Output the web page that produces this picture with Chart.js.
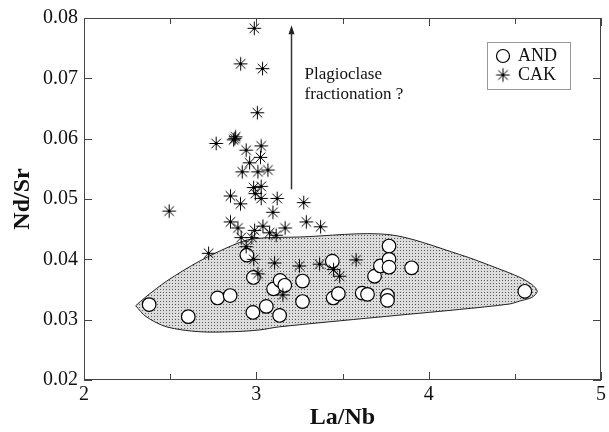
<!DOCTYPE html>
<html>
<head>
<meta charset="utf-8">
<script src="https://cdn.jsdelivr.net/npm/chart.js@4"></script>
<style>
  body { margin: 0; background: #fff; }
  #wrap { width: 609px; height: 432px; }
</style>
</head>
<body>
<div id="wrap"><canvas id="chart" width="609" height="432"></canvas></div>
<script>
// AND samples (circles)
const andX = [2.378, 2.605, 2.775, 2.848, 2.945, 2.983, 2.980, 3.058, 3.100, 3.138,
  3.165, 3.135, 3.268, 3.268, 3.441, 3.446, 3.476, 3.614, 3.645, 3.686,
  3.720, 3.770, 3.770, 3.770, 3.761, 3.761, 3.901, 4.558];
const andY = [0.0325, 0.0305, 0.0336, 0.0340, 0.0407, 0.0370, 0.0312, 0.0322, 0.0351, 0.0365,
  0.0357, 0.0307, 0.0364, 0.0330, 0.0397, 0.0336, 0.0343, 0.0344, 0.0342, 0.0372,
  0.0389, 0.0422, 0.0400, 0.0387, 0.0340, 0.0332, 0.0386, 0.0347];

// CAK samples (stars)
const cakX = [2.988, 2.909, 3.036, 3.006, 2.767, 2.868, 2.880, 2.875, 2.941, 3.028,
  3.024, 2.961, 2.918, 3.009, 3.067, 2.984, 3.028, 2.994, 3.028, 2.850,
  2.908, 3.121, 3.096, 3.275, 2.494, 2.850, 2.893, 2.990, 3.038, 3.077,
  3.115, 3.167, 3.290, 3.373, 2.912, 2.974, 2.941, 2.723, 2.985, 3.106,
  3.250, 3.367, 3.009, 3.579, 3.448, 3.483, 3.154];
const cakY = [0.0783, 0.0724, 0.0716, 0.0643, 0.0592, 0.0598, 0.0603, 0.0600, 0.0581, 0.0588,
  0.0569, 0.0560, 0.0545, 0.0545, 0.0548, 0.0519, 0.0521, 0.0509, 0.0501, 0.0505,
  0.0492, 0.0501, 0.0478, 0.0494, 0.0480, 0.0462, 0.0452, 0.0448, 0.0455, 0.0444,
  0.0440, 0.0452, 0.0462, 0.0454, 0.0436, 0.0436, 0.0421, 0.0410, 0.0400, 0.0394,
  0.0389, 0.0392, 0.0376, 0.0399, 0.0383, 0.0372, 0.0341];

// outline of the AND field
const fieldX = [2.30, 2.36, 2.48, 2.67, 2.86, 2.98, 3.25, 3.77, 4.18, 4.40, 4.53, 4.60, 4.63,
  4.60, 4.53, 4.47, 4.18, 3.70, 3.13, 3.02, 2.86, 2.67, 2.48, 2.36, 2.30];
const fieldY = [0.0323, 0.0338, 0.0364, 0.0397, 0.0423, 0.0434, 0.0437, 0.0441, 0.0408, 0.0385, 0.0370, 0.0358, 0.0347,
  0.0337, 0.0331, 0.0326, 0.0317, 0.0304, 0.0288, 0.0283, 0.0280, 0.0280, 0.0288, 0.0305, 0.0323];

const xTicks = [2, 3, 4, 5];
const xMinor = [2.5, 3.5, 4.5];
const yTicks = [0.02, 0.03, 0.04, 0.05, 0.06, 0.07, 0.08];

const arrowX = 3.2, arrowFrom = 0.0516, arrowTo = 0.0788;
const noteX = 3.28, noteY = 0.0690;
const noteLines = ['Plagioclase', 'fractionation ?'];

const serif = '"Liberation Serif", "DejaVu Serif", serif';

function pts(xs, ys) {
  return xs.map((x, i) => ({ x: x, y: ys[i] }));
}

// stippled fill
const pat = document.createElement('canvas');
pat.width = 3; pat.height = 3;
const pctx = pat.getContext('2d');
pctx.fillStyle = '#dcdcdc';
pctx.fillRect(0, 0, 3, 3);
pctx.fillStyle = '#5a5a5a';
pctx.fillRect(1, 1, 1, 1);
const stipple = pctx.createPattern(pat, 'repeat');

// asterisk marker with a dot in the middle
function makeStar(r) {
  const c = document.createElement('canvas');
  const s = Math.ceil(r * 2 + 3);
  c.width = s; c.height = s;
  const g = c.getContext('2d');
  const m = s / 2;
  g.strokeStyle = '#000';
  g.lineWidth = 1;
  for (let k = 0; k < 4; k++) {
    const a = k * Math.PI / 4;
    g.beginPath();
    g.moveTo(m - r * Math.cos(a), m - r * Math.sin(a));
    g.lineTo(m + r * Math.cos(a), m + r * Math.sin(a));
    g.stroke();
  }
  g.fillStyle = '#000';
  g.beginPath();
  g.arc(m, m, 1.8, 0, Math.PI * 2);
  g.fill();
  return c;
}
const star = makeStar(6.8);

const frame = {
  id: 'frame',
  afterDraw(chart) {
    const { ctx, chartArea: a, scales: { x, y } } = chart;
    ctx.save();
    ctx.strokeStyle = '#444';
    ctx.lineWidth = 1;
    ctx.strokeRect(a.left + 0.5, a.top + 0.5, a.right - a.left - 1, a.bottom - a.top - 1);
    ctx.beginPath();
    xTicks.forEach(v => {
      const px = Math.round(x.getPixelForValue(v)) + 0.5;
      ctx.moveTo(px, a.bottom); ctx.lineTo(px, a.bottom - 8);
      ctx.moveTo(px, a.top); ctx.lineTo(px, a.top + 8);
    });
    xMinor.forEach(v => {
      const px = Math.round(x.getPixelForValue(v)) + 0.5;
      ctx.moveTo(px, a.bottom); ctx.lineTo(px, a.bottom - 6);
      ctx.moveTo(px, a.top); ctx.lineTo(px, a.top + 6);
    });
    yTicks.forEach(v => {
      const py = Math.round(y.getPixelForValue(v)) + 0.5;
      ctx.moveTo(a.left, py); ctx.lineTo(a.left + 8, py);
      ctx.moveTo(a.right, py); ctx.lineTo(a.right - 8, py);
    });
    ctx.stroke();

    // arrow
    const ax = Math.round(x.getPixelForValue(arrowX)) + 0.5;
    const y0 = y.getPixelForValue(arrowFrom), y1 = y.getPixelForValue(arrowTo);
    ctx.strokeStyle = '#333';
    ctx.lineWidth = 1.5;
    ctx.beginPath();
    ctx.moveTo(ax, y0); ctx.lineTo(ax, y1 + 6);
    ctx.stroke();
    ctx.fillStyle = '#222';
    ctx.beginPath();
    ctx.moveTo(ax, y1); ctx.lineTo(ax - 3, y1 + 9); ctx.lineTo(ax + 3, y1 + 9);
    ctx.closePath(); ctx.fill();

    // note
    ctx.fillStyle = '#111';
    ctx.font = '17px ' + serif;
    ctx.textBaseline = 'middle';
    const nx = x.getPixelForValue(noteX), ny = y.getPixelForValue(noteY);
    noteLines.forEach((t, i) => ctx.fillText(t, nx, ny - 10 + i * 20));

    // legend box
    const lx = 487, ly = 42, lw = 83, lh = 47;
    ctx.setLineDash([1, 1]);
    ctx.strokeStyle = '#333';
    ctx.lineWidth = 1;
    ctx.strokeRect(lx + 0.5, ly + 0.5, lw, lh);
    ctx.setLineDash([]);
    ctx.fillStyle = '#fff';
    ctx.strokeStyle = '#000';
    ctx.lineWidth = 1.2;
    ctx.beginPath();
    ctx.arc(503, 56, 6.5, 0, Math.PI * 2);
    ctx.fill(); ctx.stroke();
    ctx.drawImage(star, 503 - star.width / 2, 75 - star.height / 2);
    ctx.fillStyle = '#111';
    ctx.font = '18px ' + serif;
    ctx.fillText('AND', 518, 56);
    ctx.fillText('CAK', 518, 75);
    ctx.restore();
  }
};

new Chart(document.getElementById('chart'), {
  type: 'scatter',
  data: {
    datasets: [
      {
        label: 'CAK',
        data: pts(cakX, cakY),
        pointStyle: star,
        order: 1
      },
      {
        label: 'AND',
        data: pts(andX, andY),
        pointStyle: 'circle',
        pointRadius: 6.8,
        pointBackgroundColor: '#fff',
        pointBorderColor: '#000',
        pointBorderWidth: 1.2,
        order: 2
      },
      {
        label: 'field',
        data: pts(fieldX, fieldY),
        showLine: true,
        fill: 'shape',
        tension: 0.3,
        backgroundColor: stipple,
        borderColor: '#222',
        borderWidth: 1,
        pointRadius: 0,
        order: 3
      }
    ]
  },
  options: {
    responsive: false,
    animation: false,
    layout: { padding: { top: 12, right: 8 } },
    plugins: {
      legend: { display: false },
      tooltip: { enabled: false }
    },
    scales: {
      x: {
        type: 'linear',
        min: 2, max: 5,
        afterFit: s => { s.height = 52; },
        afterBuildTicks: s => { s.ticks = xTicks.map(v => ({ value: v })); },
        grid: { display: false, drawTicks: false },
        border: { display: false },
        ticks: { padding: 3, color: '#111', font: { family: serif, size: 20 } },
        title: {
          display: true, text: 'La/Nb', color: '#111',
          font: { family: serif, size: 24, weight: 'bold', lineHeight: 1 },
          padding: { top: 0, bottom: 2 }
        }
      },
      y: {
        min: 0.02, max: 0.08,
        afterFit: s => { s.width = 84; },
        afterBuildTicks: s => { s.ticks = yTicks.map(v => ({ value: v })); },
        grid: { display: false, drawTicks: false },
        border: { display: false },
        ticks: {
          padding: 6, color: '#111', font: { family: serif, size: 20 },
          callback: v => v.toFixed(2)
        },
        title: {
          display: true, text: 'Nd/Sr', color: '#111',
          font: { family: serif, size: 24, weight: 'bold', lineHeight: 1 },
          padding: { top: 11, bottom: 0 }
        }
      }
    }
  },
  plugins: [frame]
});
</script>
</body>
</html>
